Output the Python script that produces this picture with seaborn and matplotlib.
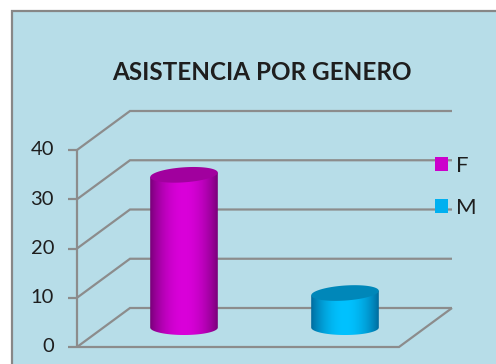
import numpy as np
import matplotlib
matplotlib.use("Agg")
import matplotlib.pyplot as plt
import seaborn as sns
from matplotlib.patches import Rectangle, PathPatch, Polygon, Patch
from matplotlib.path import Path

# ---- data ----
genders = ["F", "M"]
attendance = [31, 7]
y_ticks = [0, 10, 20, 30, 40]
chart_title = "ASISTENCIA POR GENERO"

# ---- styling ----
legend_colors = {"F": "#cc00cc", "M": "#00b0f0"}
body_colors = {"F": ("#760076", "#da00da"), "M": ("#00689a", "#00c2ff")}
top_colors = {"F": "#a1009e", "M": "#0087b9"}
panel_color = "#b7dde8"
grid_color = "#8c8c8c"
text_color = "#1e1e1e"

sns.set_style("white")
plt.rcParams["font.family"] = ["Lato", "DejaVu Sans"]

W, H = 496, 364
fig = plt.figure(figsize=(W / 100, H / 100), dpi=100)
fig.patch.set_facecolor("white")

# chart panel with border (runs off the right and bottom edges)
panel = Rectangle((12 / W, -0.2), 1.5, 1.2 - 11 / H, transform=fig.transFigure,
                  facecolor=panel_color, edgecolor="#878787", lw=1.6, zorder=-5)
fig.add_artist(panel)

# plotting plane at the middle depth of the 3-D box; a little room below zero
# is kept so the rounded bottoms of the cylinders are not clipped
Y_LOW = -5
unit_px = 197 / 40
bottom_px = 327.5 - Y_LOW * unit_px
ax = fig.add_axes([103.5 / W, (H - bottom_px) / H, 322 / W, (bottom_px - 130.5) / H])
sns.barplot(x=genders, y=attendance, hue=genders, palette=legend_colors,
            width=0.42, saturation=1, legend=False, ax=ax)
ax.set_xlim(-0.5, 1.5)
ax.set_ylim(Y_LOW, 40)
ax.set_axis_off()

DX, DY = 53.0, 39.0  # depth vector in pixels (front -> back)


def shift(x, y, dx_px, dy_px):
    p = ax.transData.transform((x, y)) + np.array([dx_px, dy_px])
    return ax.transData.inverted().transform(p)


def at_depth(x, y, d):
    return shift(x, y, d * DX, d * DY)


line_kw = dict(color=grid_color, lw=1.6, clip_on=False, solid_capstyle="butt",
               solid_joinstyle="miter")

# wall gridlines, left side-wall diagonals, ticks and labels
for t in y_ticks:
    f = at_depth(-0.5, t, -0.5)
    b0 = at_depth(-0.5, t, 0.5)
    b1 = at_depth(1.5, t, 0.5)
    ax.plot([f[0], b0[0], b1[0]], [f[1], b0[1], b1[1]], zorder=1, **line_kw)
    tk = shift(f[0], f[1], -9, 0)
    ax.plot([tk[0], f[0]], [tk[1], f[1]], zorder=1, **line_kw)
    lb = shift(f[0], f[1], -23, 0)
    ax.text(lb[0], lb[1], str(t), ha="right", va="center", fontsize=14.5,
            color=text_color, clip_on=False)

# front vertical axis
fa0 = at_depth(-0.5, y_ticks[0], -0.5)
fa1 = at_depth(-0.5, y_ticks[-1], -0.5)
ax.plot([fa0[0], fa1[0]], [fa0[1], fa1[1]], zorder=1, **line_kw)

# floor outline: front edge and right diagonal
fl0 = at_depth(-0.5, 0, -0.5)
fl1 = at_depth(1.5, 0, -0.5)
fl2 = at_depth(1.5, 0, 0.5)
ax.plot([fl0[0], fl1[0], fl2[0]], [fl0[1], fl1[1], fl2[1]], zorder=1, **line_kw)

# cylinders built on the seaborn bars
ppu_y = ax.transData.transform((0, 1))[1] - ax.transData.transform((0, 0))[1]
ell_half = 7.5 / ppu_y
tilt = np.deg2rad(4)
theta = np.linspace(np.pi, 2 * np.pi, 60)
full = np.linspace(0, 2 * np.pi, 120)

for patch, g in zip(list(ax.patches), genders):
    x0, w, h = patch.get_x(), patch.get_width(), patch.get_height()
    patch.set_visible(False)
    cx = x0 + w / 2
    x1 = x0 + w
    a_px = (ax.transData.transform((x1, 0))[0] - ax.transData.transform((x0, 0))[0]) / 2
    dh = a_px * np.sin(tilt) / ppu_y

    arc_x = cx + (w / 2) * np.cos(theta)
    arc_y = ell_half * np.sin(theta)
    verts = [(x0, h - dh)] + list(zip(arc_x, arc_y)) + [(x1, h + dh), (x0, h - dh)]
    codes = [Path.MOVETO] + [Path.LINETO] * (len(verts) - 2) + [Path.CLOSEPOLY]
    body = PathPatch(Path(verts, codes), facecolor="none", edgecolor="none")
    ax.add_patch(body)

    u = np.linspace(0, 1, 200)
    s = np.sin(np.pi * u) ** 0.8
    dark = np.array(matplotlib.colors.to_rgb(body_colors[g][0]))
    bright = np.array(matplotlib.colors.to_rgb(body_colors[g][1]))
    grad = dark[None, :] + (bright - dark)[None, :] * s[:, None]
    img = ax.imshow(grad[None, :, :], extent=[x0, x1, -ell_half, h + dh],
                    aspect="auto", origin="lower", zorder=2, interpolation="bilinear")
    img.set_clip_path(body)

    pc = ax.transData.transform((cx, h))
    ex = a_px * np.cos(full)
    ey = 7.5 * np.sin(full)
    rx = pc[0] + ex * np.cos(tilt) - ey * np.sin(tilt)
    ry = pc[1] + ex * np.sin(tilt) + ey * np.cos(tilt)
    top_pts = ax.transData.inverted().transform(np.column_stack([rx, ry]))
    ax.add_patch(Polygon(top_pts, closed=True, facecolor=top_colors[g],
                         edgecolor="none", zorder=3, clip_on=False))

ax.set_xlim(-0.5, 1.5)
ax.set_ylim(Y_LOW, 40)

# title
fig.text(262 / W, 1 - 72.5 / H, chart_title, ha="center", va="center",
         fontsize=17.5, fontweight="bold", color=text_color)

# legend
handles = [Patch(facecolor=legend_colors[g], edgecolor="none") for g in genders]
fig.legend(handles, genders, loc="upper left", bbox_to_anchor=(435 / W, 1 - 156 / H),
           frameon=False, fontsize=16, handlelength=0.6, handleheight=0.6,
           handletextpad=0.35, labelspacing=0.98, borderpad=0, borderaxespad=0,
           labelcolor=text_color)

fig.savefig("out.png", dpi=100, facecolor="white")
